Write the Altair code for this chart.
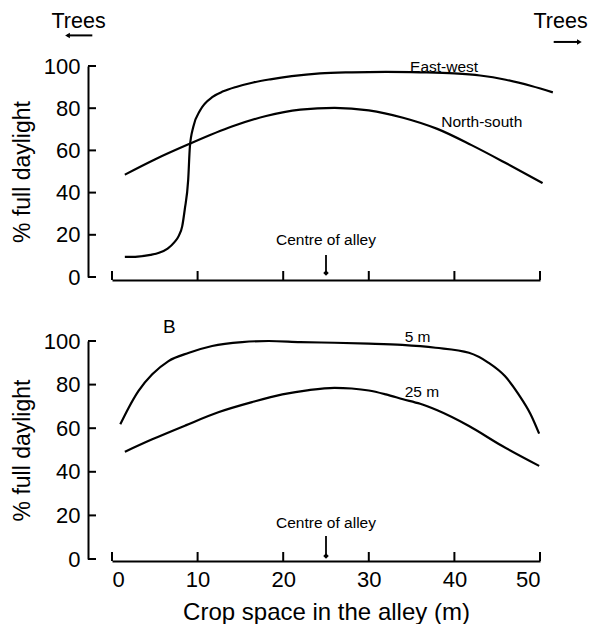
import altair as alt
import pandas as pd

FONT = "Liberation Sans"

# ---------- Panel A (top): orientation of hedgerows ----------
ew_x = [1.5, 3, 4.5, 5.5, 6.5, 7.3, 7.8, 8.2, 8.5, 8.9, 9.1, 9.5, 10.3, 11.8, 13, 14.6,
        16.5, 18.5, 21, 24.3, 28, 32, 36, 40, 43, 46, 49, 51.5]
ew_y = [9.5, 9.7, 10.5, 11.5, 13.5, 16.5, 19.5, 24, 32, 46, 61.8, 71.2, 79, 85.5, 88, 90.2,
        92.2, 93.7, 95.2, 96.5, 97, 97.2, 97, 96.5, 95.5, 93.5, 90.5, 87.5]
ns_x = [1.5, 5, 9, 14, 18, 22, 26, 30, 34, 38, 42, 46, 50.3]
ns_y = [48.5, 55.7, 63, 71.3, 76.3, 79.3, 80.2, 79, 75.5, 70.2, 62.5, 54, 44.5]

# ---------- Panel B (bottom): hedgerow height ----------
m5_x = [0.97, 1.95, 3.1, 4.7, 6.6, 9.0, 11.7, 15.2, 18.3, 22, 26, 30, 33.9, 37.8, 41.7, 44,
        45.9, 47.5, 48.9, 49.9]
m5_y = [61.8, 69.4, 77.1, 84.7, 90.8, 94.6, 97.7, 99.5, 100, 99.5, 99.2, 98.8, 98.2, 96.9,
        94.6, 90, 83.9, 75.5, 66.4, 57.5]
m25_x = [1.5, 4.7, 8.6, 12.5, 16.4, 19.9, 23, 26, 28, 30, 32, 34, 36, 38, 41.7, 45.6, 49.9]
m25_y = [49.2, 54.9, 61.3, 67.4, 72, 75.5, 77.5, 78.5, 78.2, 77.3, 75.5, 73.3, 71.2, 68.2,
         61, 51.8, 42.7]

x_ticks = [0, 10, 20, 30, 40, 50]
y_ticks = [0, 20, 40, 60, 80, 100]

labels_a = ["East-west", "North-south"]
labels_a_x = [38.8, 43.2]
labels_a_y = [99.5, 73.5]
labels_b = ["5 m", "25 m"]
labels_b_x = [35.7, 36.2]
labels_b_y = [101.8, 76.6]

centre_text = "Centre of alley"
centre_x = 25
centre_a = [17.5, 10.4, 1.9]   # text y, arrow top, arrow head
centre_b = [16.5, 10.5, 1.4]

trees_label = ["Trees", "Trees"]
trees_x = [-3.9, 52.4]
trees_y = [121, 121]
arrow_from = [-2.3, 51.6]
arrow_to = [-5.2, 54.6]
arrow_y = [114.5, 111.4]

panel_letter = "B"
letter_x, letter_y = 6.7, 106.4

xs = alt.Scale(domain=[0, 50], nice=False, zero=False)
ys = alt.Scale(domain=[0, 100], nice=False, zero=False)

Y_AXIS = alt.Axis(values=y_ticks, ticks=False, offset=24, labelFontSize=22, labelPadding=8,
                  title="% full daylight", titleFontSize=23, titlePadding=9, grid=False)
X_AXIS_TOP = alt.Axis(values=x_ticks, ticks=False, labels=False, offset=3, title=None, grid=False)
X_AXIS_BOTTOM = alt.Axis(values=x_ticks, ticks=False, offset=2, labelFontSize=22, labelPadding=8,
                         title="Crop space in the alley (m)", titleFontSize=24, titlePadding=10,
                         grid=False)


def panel(series, labels, lx, ly, h, centre, bottom):
    xaxis = X_AXIS_BOTTOM if bottom else X_AXIS_TOP
    off = 2 if bottom else 3

    def X(f):
        return alt.X(f, type="quantitative", scale=xs, axis=xaxis)

    def Y(f):
        return alt.Y(f, type="quantitative", scale=ys, axis=Y_AXIS)

    rows = []
    for name, xv, yv in series:
        for a, b in zip(xv, yv):
            rows.append({"series": name, "x": a, "y": b})
    df = pd.DataFrame(rows)

    lines = alt.Chart(df).mark_line(color="black", strokeWidth=2.2, interpolate="monotone").encode(
        x=X("x"), y=Y("y"), detail="series:N")
    lab = alt.Chart(pd.DataFrame({"x": lx, "y": ly, "t": labels})).mark_text(
        font=FONT, fontSize=15.5, color="black").encode(x=X("x"), y=Y("y"), text="t:N")
    xt = alt.Chart(pd.DataFrame({"x": x_ticks})).mark_rule(color="black", strokeWidth=2).encode(
        x=X("x"), y=alt.value(h + off), y2=alt.value(h + off - 9))
    yt = alt.Chart(pd.DataFrame({"y": y_ticks})).mark_rule(color="black", strokeWidth=2).encode(
        y=Y("y"), x=alt.value(-24), x2=alt.value(-16))
    cdf = pd.DataFrame({"x": [centre_x], "ty": [centre[0]], "a1": [centre[1]], "a2": [centre[2]],
                        "t": [centre_text]})
    ctext = alt.Chart(cdf).mark_text(font=FONT, fontSize=15.5, color="black").encode(
        x=X("x"), y=Y("ty"), text="t:N")
    crule = alt.Chart(cdf).mark_rule(color="black", strokeWidth=1.8).encode(
        x=X("x"), y=Y("a1"), y2="a2:Q")
    chead = alt.Chart(cdf).mark_point(shape="diamond", filled=True, color="black", size=30,
                                      opacity=1).encode(x=X("x"), y=Y("a2"))
    extra = []
    if not bottom:
        tdf = pd.DataFrame({"x": trees_x, "y": trees_y, "t": trees_label, "a1": arrow_from,
                            "a2": arrow_to, "ay": arrow_y,
                            "shape": ["triangle-left", "triangle-right"]})
        ttext = alt.Chart(tdf).mark_text(font=FONT, fontSize=21.5, color="black").encode(
            x=X("x"), y=Y("y"), text="t:N")
        trule = alt.Chart(tdf).mark_rule(color="black", strokeWidth=2).encode(
            x=X("a1"), x2="a2:Q", y=Y("ay"))
        thead = alt.Chart(tdf).mark_point(filled=True, color="black", size=30, opacity=1).encode(
            x=X("a2"), y=Y("ay"), shape=alt.Shape("shape:N", scale=None, legend=None))
        extra = [ttext, trule, thead]
    else:
        letter = alt.Chart(pd.DataFrame({"x": [letter_x], "y": [letter_y],
                                         "t": [panel_letter]})).mark_text(
            font=FONT, fontSize=19, color="black").encode(x=X("x"), y=Y("y"), text="t:N")
        extra = [letter]
    return alt.layer(lines, lab, xt, yt, ctext, crule, chead, *extra).properties(width=428, height=h)


top = panel([("East-west", ew_x, ew_y), ("North-south", ns_x, ns_y)],
            labels_a, labels_a_x, labels_a_y, 211, centre_a, False)
bottom = panel([("5 m", m5_x, m5_y), ("25 m", m25_x, m25_y)],
               labels_b, labels_b_x, labels_b_y, 218, centre_b, True)

chart = alt.vconcat(top, bottom, spacing=30).properties(
    padding={"left": 3, "top": 2, "right": 0, "bottom": 0}
).configure_view(stroke=None).configure_axis(
    domainColor="black", domainWidth=2, labelColor="black", titleColor="black",
    labelFont=FONT, titleFont=FONT, titleFontWeight="normal"
)

chart.save("out.html", embed_options={"renderer": "svg", "actions": False})
